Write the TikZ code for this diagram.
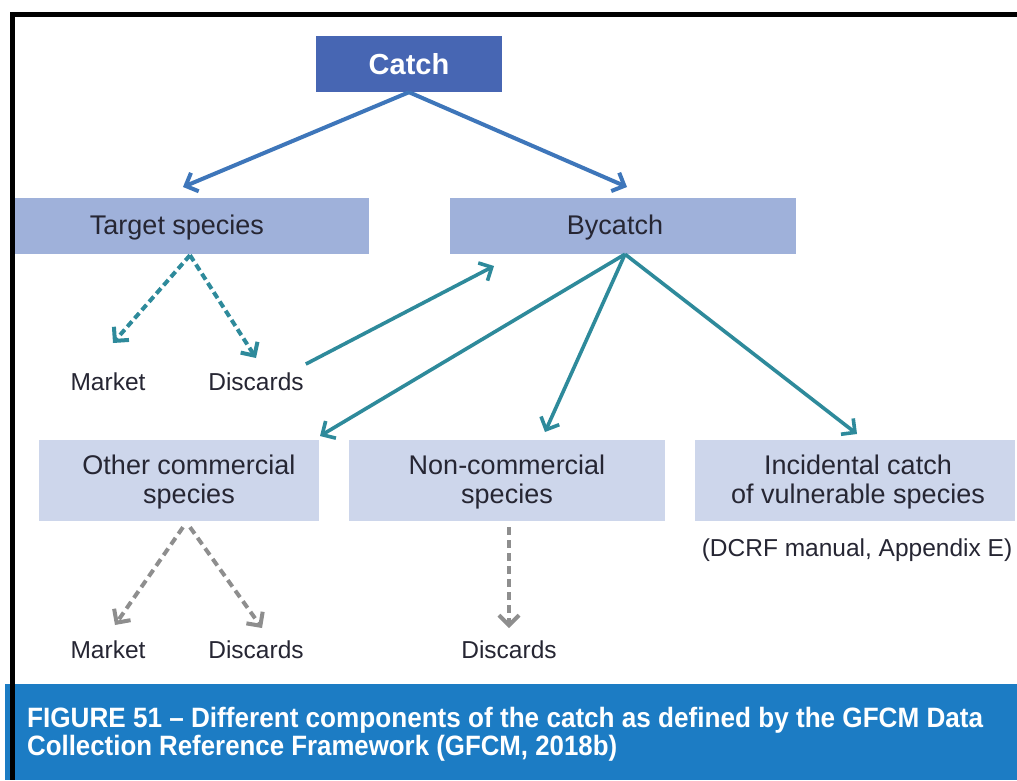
\documentclass[tikz,border=0pt]{standalone}
\usepackage{fontspec}
\setmainfont{Liberation Sans}
\newfontfamily\capfont{Liberation Sans}
\usetikzlibrary{arrows.meta,calc}
\definecolor{catchblue}{HTML}{4766B3}
\definecolor{upbox}{HTML}{9FB1DA}
\definecolor{lowbox}{HTML}{CDD6EB}
\definecolor{txt}{HTML}{262633}
\definecolor{arrblue}{HTML}{3E76BA}
\definecolor{teal}{HTML}{2E8A9B}
\definecolor{grayarr}{HTML}{8E8E8E}
\definecolor{capband}{HTML}{1C7CC4}
\begin{document}
\begin{tikzpicture}[x=1pt,y=-1pt,
  boxfill/.style={rectangle, inner sep=0pt, draw=none},
  lbl/.style={inner sep=0pt, text=txt, align=center, font=\fontsize{27}{29}\selectfont},
  small/.style={inner sep=0pt, text=txt, anchor=base, font=\fontsize{24.5}{28}\selectfont},
  tip/.style={-{Straight Barb[length=10pt,width=20pt]}},
  bluearr/.style={tip, draw=arrblue, line width=4pt},
  tealarr/.style={tip, draw=teal, line width=3.6pt},
  tealdash/.style={tip, draw=teal, line width=4pt, dash pattern=on 7pt off 4pt},
  graydash/.style={tip, draw=grayarr, line width=4pt, dash pattern=on 8pt off 5pt}
]
\useasboundingbox (0,0) rectangle (1017,780);
\fill[white] (0,0) rectangle (1017,780);

% caption band and frame
\fill[capband] (5,684) rectangle (1017,780);
\fill[black] (10,12) rectangle (1017,17);
\fill[black] (10,12) rectangle (15,780);

% boxes
\node[boxfill, fill=catchblue, minimum width=186pt, minimum height=56pt,
      text=white, font=\bfseries\fontsize{29}{31}\selectfont] (catch) at (409,64) {Catch};
\node[boxfill, fill=upbox, minimum width=354pt, minimum height=56pt] (target) at (192,226) {};
\node[lbl] (targetlbl) at (177,228) {Target species};
\node[boxfill, fill=upbox, minimum width=346pt, minimum height=56pt] (bycatch) at (623,226) {};
\node[lbl] (bycatchlbl) at (615,228) {Bycatch};
\node[boxfill, fill=lowbox, minimum width=280pt, minimum height=81pt] (other) at (179,480.5) {};
\node[lbl] (otherlbl) at (189,482) {Other commercial\\species};
\node[boxfill, fill=lowbox, minimum width=316pt, minimum height=81pt] (noncom) at (507,480.5) {};
\node[lbl] (noncomlbl) at (507,482) {Non-commercial\\species};
\node[boxfill, fill=lowbox, minimum width=320pt, minimum height=81pt] (incid) at (855,480.5) {};
\node[lbl] (incidlbl) at (858,482) {Incidental catch\\of vulnerable species};
\node[small] (dcrf) at (857,556) {(DCRF manual, Appendix E)};

% plain labels
\node[small] (mkt1) at (108,390) {Market};
\node[small] (disc1) at (256,390) {Discards};
\node[small] (mkt2) at (108,658) {Market};
\node[small] (disc2) at (256,658) {Discards};
\node[small] (disc3) at (509,658) {Discards};

% connector ends
\coordinate (ct1) at (183,187);
\coordinate (ct2) at (627,187);
\coordinate (tm) at (113,343);
\coordinate (td) at (256,358);
\coordinate (bd) at (494,266);
\coordinate (bo) at (320,436);
\coordinate (bn) at (545,432);
\coordinate (bi) at (857,434);
\coordinate (om) at (115,625);
\coordinate (od) at (262,628);
\coordinate (nd) at (509,628);

% connectors
\draw[bluearr] (catch.south) -- (ct1);
\draw[bluearr] (catch.south) -- (ct2);
\draw[tealdash] ($(target.south)+(-2,1)$) -- (tm);
\draw[tealdash] ($(target.south)+(-2,1)$) -- (td);
\draw[tealarr] ($(disc1.north east)+(2,-8)$) -- (bd);
\draw[tealarr] ($(bycatch.south)+(2,0)$) -- (bo);
\draw[tealarr] ($(bycatch.south)+(2,0)$) -- (bn);
\draw[tealarr] ($(bycatch.south)+(2,0)$) -- (bi);
\draw[graydash] ($(other.south)+(4,6)$) -- (om);
\draw[graydash] ($(other.south)+(11,6)$) -- (od);
\draw[graydash] ($(noncom.south)+(2,6)$) -- (nd);

% caption
\node[anchor=base west, inner sep=0pt, text=white,
      font=\capfont\bfseries\fontsize{28}{30}\selectfont] (cap1) at (27,727)
  {\resizebox{956pt}{\height}{FIGURE 51 – Different components of the catch as defined by the GFCM Data}};
\node[anchor=base west, inner sep=0pt, text=white,
      font=\capfont\bfseries\fontsize{28}{30}\selectfont] (cap2) at (27,755)
  {\resizebox{590pt}{\height}{Collection Reference Framework (GFCM, 2018b)}};
\end{tikzpicture}
\end{document}
